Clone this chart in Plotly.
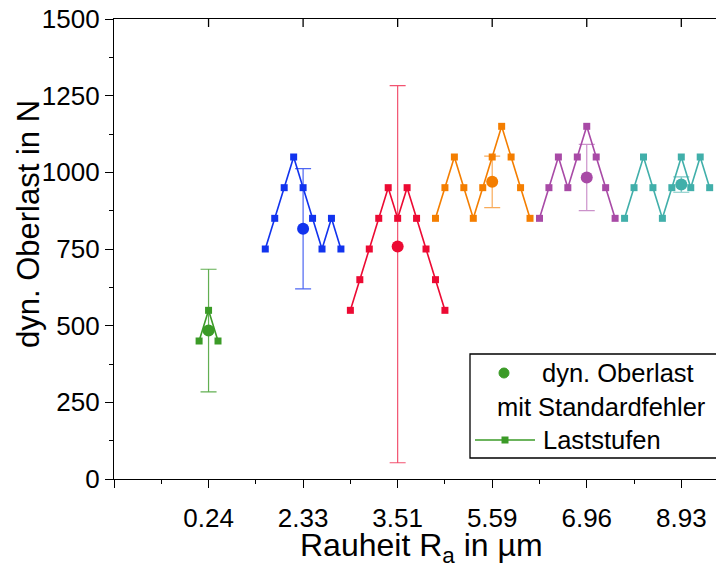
import plotly.graph_objects as go

# ---- data ----
group_labels = ['0.24', '2.33', '3.51', '5.59', '6.96', '8.93']
group_pos = [1, 2, 3, 4, 5, 6]
mean_load = [484, 816, 758, 969, 983, 960]
err_plus = [200, 196, 525, 84, 108, 25]
err_minus = [200, 196, 705, 84, 108, 25]

green_x = [0.9, 1.0, 1.1]
green_y = [450, 550, 450]
blue_x = [1.6, 1.7, 1.8, 1.9, 2.0, 2.1, 2.2, 2.3, 2.4]
blue_y = [750, 850, 950, 1050, 950, 850, 750, 850, 750]
red_x = [2.5, 2.6, 2.7, 2.8, 2.9, 3.0, 3.1, 3.2, 3.3, 3.4, 3.5]
red_y = [550, 650, 750, 850, 950, 850, 950, 850, 750, 650, 550]
orange_x = [3.4, 3.5, 3.6, 3.7, 3.8, 3.9, 4.0, 4.1, 4.2, 4.3, 4.4]
orange_y = [850, 950, 1050, 950, 850, 950, 1050, 1150, 1050, 950, 850]
purple_x = [4.5, 4.6, 4.7, 4.8, 4.9, 5.0, 5.1, 5.2, 5.3]
purple_y = [850, 950, 1050, 950, 1050, 1150, 1050, 950, 850]
teal_x = [5.4, 5.5, 5.6, 5.7, 5.8, 5.9, 6.0, 6.1, 6.2, 6.3]
teal_y = [850, 950, 1050, 950, 850, 950, 1050, 950, 1050, 950]

y_ticks = [0, 250, 500, 750, 1000, 1250, 1500]
y_minor = [125, 375, 625, 875, 1125, 1375]
x_minor = [0.5, 1.5, 2.5, 3.5, 4.5, 5.5]

colors = ['#3b9b27', '#1133ee', '#ec0a33', '#f47e00', '#a84aa6', '#41afaa']
err_colors = ['rgba(59,155,39,0.8)', 'rgba(17,51,238,0.75)', 'rgba(236,10,51,0.7)',
              'rgba(244,126,0,0.65)', 'rgba(168,74,166,0.6)', 'rgba(65,175,170,0.7)']

steps = [(green_x, green_y), (blue_x, blue_y), (red_x, red_y),
         (orange_x, orange_y), (purple_x, purple_y), (teal_x, teal_y)]

FONT = 'Liberation Sans, Arial, sans-serif'
OFF = 8                      # default page body margin
W, H = 716, 560              # figure size inside the 724x568 window
ML, MR, MT, MB = 106, 0, 11, 89
PW, PH = W - ML - MR, H - MT - MB
XUNIT = 94.55                # pixels per category step
xr = [0, PW / XUNIT]

fig = go.Figure()

for i, (sx, sy) in enumerate(steps):
    fig.add_trace(go.Scatter(
        x=sx, y=sy, mode='lines+markers',
        line=dict(color=colors[i], width=1.6),
        marker=dict(symbol='square', size=7, color=colors[i]),
        showlegend=False, hoverinfo='skip'))

for i in range(len(group_pos)):
    fig.add_trace(go.Scatter(
        x=[group_pos[i]], y=[mean_load[i]], mode='markers',
        marker=dict(symbol='circle', size=12, color=colors[i]),
        error_y=dict(type='data', symmetric=False, array=[err_plus[i]],
                     arrayminus=[err_minus[i]], color=err_colors[i],
                     thickness=1.2, width=8),
        showlegend=False))

fig.update_layout(
    width=W, height=H,
    margin=dict(l=ML, r=MR, t=MT, b=MB, autoexpand=False),
    paper_bgcolor='white', plot_bgcolor='white',
    font=dict(family=FONT, color='black', size=26),
    xaxis=dict(range=xr, showgrid=False, zeroline=False, showline=True, mirror=True,
               linecolor='black', linewidth=1.3, ticks='outside', ticklen=8,
               tickwidth=1.3, tickcolor='black',
               tickvals=[0] + group_pos, ticktext=[''] + group_labels,
               tickfont=dict(size=26, family=FONT), ticklabelstandoff=8,
               ticklabeloverflow='allow',
               minor=dict(tickvals=x_minor, ticks='outside',
                          ticklen=4, tickwidth=1.3, tickcolor='black')),
    yaxis=dict(range=[0, 1500], showgrid=False, zeroline=False, showline=True,
               linecolor='black', linewidth=1.3, ticks='outside', ticklen=8,
               tickwidth=1.3, tickcolor='black', tickvals=y_ticks,
               tickfont=dict(size=26, family=FONT), ticklabeloverflow='allow',
               minor=dict(tickvals=y_minor, ticks='outside',
                          ticklen=4, tickwidth=1.3, tickcolor='black')),
    showlegend=False,
)


def px(x):
    """window pixel x -> paper"""
    return (x - OFF - ML) / PW


def py(y):
    """window pixel y -> paper"""
    return (H - MB - (y - OFF)) / PH


shapes = []
# inward ticks on the top axis (major positions) and short ticks at right edge
for g in group_pos:
    shapes.append(dict(type='line', xref='x', yref='paper', x0=g, x1=g,
                       y0=1, y1=1 - 8 / PH, line=dict(color='black', width=1.3)))
for t in y_ticks:
    shapes.append(dict(type='line', xref='paper', yref='y', x0=1 - 3 / PW, x1=1,
                       y0=t, y1=t, line=dict(color='black', width=1.3)))

# custom legend (box, symbols, text)
shapes += [
    dict(type='rect', xref='paper', yref='paper', x0=px(470), x1=px(720),
         y0=py(458), y1=py(354), line=dict(color='black', width=1.3),
         fillcolor='white', layer='above'),
    dict(type='circle', xref='paper', yref='paper', x0=px(499), x1=px(509),
         y0=py(378), y1=py(368), line=dict(color=colors[0], width=1),
         fillcolor=colors[0], layer='above'),
    dict(type='line', xref='paper', yref='paper', x0=px(475), x1=px(535),
         y0=py(440), y1=py(440), line=dict(color=colors[0], width=1.6), layer='above'),
    dict(type='rect', xref='paper', yref='paper', x0=px(501.5), x1=px(508.5),
         y0=py(443.5), y1=py(436.5), line=dict(color=colors[0], width=0),
         fillcolor=colors[0], layer='above'),
]
annotations = [
    dict(text='dyn. Oberlast', xref='paper', yref='paper', x=px(540), y=py(373),
         xanchor='left', yanchor='middle', showarrow=False, font=dict(size=25.5)),
    dict(text='mit Standardfehler', xref='paper', yref='paper', x=px(495), y=py(407),
         xanchor='left', yanchor='middle', showarrow=False, font=dict(size=25.5)),
    dict(text='Laststufen', xref='paper', yref='paper', x=px(541), y=py(440),
         xanchor='left', yanchor='middle', showarrow=False, font=dict(size=25.5)),
    dict(text='Rauheit R<sub>a</sub> in µm', xref='paper', yref='paper',
         x=px(421), y=py(547), xanchor='center', yanchor='middle', showarrow=False,
         font=dict(size=32)),
    dict(text='dyn. Oberlast in N', xref='paper', yref='paper', textangle=-90,
         x=px(28), y=py(224), xanchor='center', yanchor='middle', showarrow=False,
         font=dict(size=31)),
]
fig.update_layout(shapes=shapes, annotations=annotations)

fig.write_html('out.html')
